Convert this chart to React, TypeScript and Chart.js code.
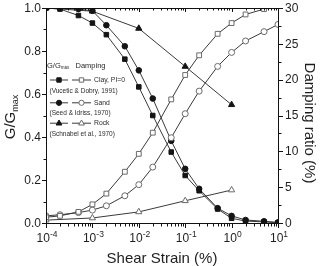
import { useEffect, useRef } from "react";
import { Chart, registerables } from "chart.js";

Chart.register(...registerables);

// Shear strain (%) at which the soil curves are tabulated
const strain = [1e-4, 2e-4, 5e-4, 1e-3, 2e-3, 5e-3, 1e-2, 2e-2, 5e-2, 0.1, 0.2, 0.5, 1, 2, 5, 10];
// Rock curves are tabulated at whole decades only
const rockStrain = [1e-4, 1e-3, 1e-2, 0.1, 1];

// Modulus reduction G/Gmax
const clayG = [1.0, 0.995, 0.965, 0.93, 0.876, 0.762, 0.633, 0.5, 0.33, 0.221, 0.15, 0.065, 0.022, 0.009, 0.005, 0.001];
const sandG = [1.0, 1.0, 0.995, 0.987, 0.92, 0.822, 0.71, 0.579, 0.382, 0.252, 0.159, 0.069, 0.033, 0.014, 0.008, 0.003];
const rockG = [1.0, 0.985, 0.905, 0.728, 0.55];

// Damping ratio (%)
const clayD = [0.8, 1.0, 1.55, 2.6, 4.1, 7.15, 9.65, 12.6, 17.25, 20.65, 23.4, 26.4, 27.9, 29.1, 29.85, 30.3];
const sandD = [1.0, 1.15, 1.45, 1.8, 2.4, 3.8, 5.35, 7.8, 11.9, 15.25, 18.4, 21.85, 23.8, 25.4, 26.7, 27.7];
const rockD = [0.4, 0.7, 1.55, 3.1, 4.6];

// Axis ticks
const xExponents = [-4, -3, -2, -1, 0, 1];
const gTicks = [0, 0.2, 0.4, 0.6, 0.8, 1.0];
const dTicks = [0, 5, 10, 15, 20, 25, 30];

// Legend entries
const soils = ["Clay, PI=0", "Sand", "Rock"];
const sources = ["(Vucetic & Dobry, 1991)", "(Seed & Idriss, 1970)", "(Schnabel et al., 1970)"];
const soilShapes = ["rect", "circle", "triangle"];

const FONT = "'Liberation Sans', Arial, Helvetica, sans-serif";
const FILLED = "#141414";
const OPEN = "#6a6a6a";
const LINE = "#3a3a3a";

const pts = (xs: number[], ys: number[]) => xs.map((x, i) => ({ x, y: ys[i] }));

function marker(ctx: CanvasRenderingContext2D, shape: string, x: number, y: number, filled: boolean) {
  ctx.save();
  ctx.beginPath();
  if (shape === "rect") {
    ctx.rect(x - 2.2, y - 2.2, 4.4, 4.4);
  } else if (shape === "circle") {
    ctx.arc(x, y, 2.6, 0, Math.PI * 2);
  } else {
    ctx.moveTo(x, y - 3.2);
    ctx.lineTo(x + 2.9, y + 1.8);
    ctx.lineTo(x - 2.9, y + 1.8);
    ctx.closePath();
  }
  ctx.fillStyle = filled ? FILLED : "#ffffff";
  ctx.fill();
  ctx.strokeStyle = filled ? FILLED : OPEN;
  ctx.lineWidth = 1;
  ctx.stroke();
  ctx.restore();
}

const decorations = {
  id: "decorations",
  afterDraw(chart: any) {
    const { ctx, chartArea: a, scales } = chart;
    const xs = scales.x;
    const ys = scales.y;
    const ys2 = scales.y2;
    ctx.save();

    // frame
    ctx.strokeStyle = "#111";
    ctx.lineWidth = 1;
    ctx.strokeRect(a.left + 0.5, a.top + 0.5, a.right - a.left, a.bottom - a.top);

    ctx.beginPath();
    // left ticks (outward), minor every 0.1
    for (let i = 0; i <= 10; i++) {
      const py = Math.round(ys.getPixelForValue(i / 10)) + 0.5;
      const len = i % 2 === 0 ? 4 : 2.5;
      ctx.moveTo(a.left - len, py);
      ctx.lineTo(a.left, py);
    }
    // right ticks (outward), minor every 2.5
    for (let i = 0; i <= 12; i++) {
      const py = Math.round(ys2.getPixelForValue(i * 2.5)) + 0.5;
      const len = i % 2 === 0 ? 4 : 2.5;
      ctx.moveTo(a.right + 1, py);
      ctx.lineTo(a.right + 1 + len, py);
    }
    // bottom (outward) and top (inward) log ticks
    for (const e of xExponents) {
      for (let k = 1; k <= 9; k++) {
        const v = k * Math.pow(10, e);
        if (v > 10 + 1e-9) break;
        const px = Math.round(xs.getPixelForValue(v)) + 0.5;
        const len = k === 1 ? 4 : 2.5;
        ctx.moveTo(px, a.bottom + 1);
        ctx.lineTo(px, a.bottom + 1 + len);
        ctx.moveTo(px, a.top);
        ctx.lineTo(px, a.top + len);
      }
    }
    ctx.stroke();

    ctx.fillStyle = "#1e1e1e";
    // left tick labels
    ctx.font = `12px ${FONT}`;
    ctx.textAlign = "right";
    ctx.textBaseline = "middle";
    for (const v of gTicks) ctx.fillText(v.toFixed(1), a.left - 5, ys.getPixelForValue(v) + 0.5);
    // right tick labels
    ctx.textAlign = "left";
    for (const v of dTicks) ctx.fillText(String(v), a.right + 7, ys2.getPixelForValue(v) + 0.5);

    // bottom tick labels: 10 with superscript exponent
    ctx.textBaseline = "alphabetic";
    for (const e of xExponents) {
      const px = xs.getPixelForValue(Math.pow(10, e));
      const exp = String(e);
      ctx.font = `12px ${FONT}`;
      const wBase = ctx.measureText("10").width;
      ctx.font = `8.5px ${FONT}`;
      const wExp = ctx.measureText(exp).width;
      const x0 = px - (wBase + wExp) / 2 + 1;
      ctx.font = `12px ${FONT}`;
      ctx.fillText("10", x0, 241.5);
      ctx.font = `8.5px ${FONT}`;
      ctx.fillText(exp, x0 + wBase, 236.5);
    }

    // x title
    ctx.font = `15px ${FONT}`;
    ctx.textAlign = "center";
    ctx.fillText("Shear Strain (%)", (a.left + a.right) / 2, 263);

    // left title G/Gmax, rotated
    ctx.save();
    ctx.translate(15, 117);
    ctx.rotate(-Math.PI / 2);
    ctx.textAlign = "left";
    ctx.font = `15px ${FONT}`;
    const wG = ctx.measureText("G/G").width;
    ctx.font = `9px ${FONT}`;
    const wMax = ctx.measureText("max").width;
    const start = -(wG + wMax) / 2;
    ctx.font = `15px ${FONT}`;
    ctx.fillText("G/G", start, 0);
    ctx.font = `9px ${FONT}`;
    ctx.fillText("max", start + wG, 3);
    ctx.restore();

    // right title, rotated
    ctx.save();
    ctx.translate(305, 123);
    ctx.rotate(Math.PI / 2);
    ctx.textAlign = "center";
    ctx.font = `15px ${FONT}`;
    ctx.fillText("Damping ratio (%)", 0, 0);
    ctx.restore();

    // legend
    ctx.fillStyle = "#2a2a2a";
    ctx.textAlign = "left";
    ctx.font = `7.5px ${FONT}`;
    ctx.fillText("G/G", 47, 67.5);
    const wHead = ctx.measureText("G/G").width;
    ctx.font = `4.5px ${FONT}`;
    ctx.fillText("max", 47 + wHead, 69);
    ctx.font = `7.5px ${FONT}`;
    ctx.fillText("Damping", 75.5, 67.5);

    const rowY = [79.5, 102.3, 122.7];
    const refY = [91, 112.3, 133.3];
    soils.forEach((name, i) => {
      const yy = rowY[i];
      ctx.strokeStyle = LINE;
      ctx.lineWidth = 1;
      ctx.beginPath();
      ctx.moveTo(50, yy + 0.5);
      ctx.lineTo(68, yy + 0.5);
      ctx.moveTo(72, yy + 0.5);
      ctx.lineTo(91, yy + 0.5);
      ctx.stroke();
      marker(ctx, soilShapes[i], 59, yy + 0.5, true);
      marker(ctx, soilShapes[i], 81.5, yy + 0.5, false);
      ctx.fillStyle = "#2a2a2a";
      ctx.font = `6.8px ${FONT}`;
      ctx.fillText(name, 94, yy + 2.5);
      ctx.font = `6.5px ${FONT}`;
      ctx.fillText(sources[i], 49.5, refY[i] + 2.3);
    });

    ctx.restore();
  },
};

export default function App() {
  const ref = useRef<HTMLCanvasElement>(null);

  useEffect(() => {
    if (!ref.current) return;
    const filledSet = (label: string, xs: number[], ys: number[], shape: string, r: number) => ({
      label,
      data: pts(xs, ys),
      yAxisID: "y",
      borderColor: LINE,
      borderWidth: 1,
      pointStyle: shape,
      pointRadius: r,
      pointBackgroundColor: FILLED,
      pointBorderColor: FILLED,
      pointBorderWidth: 1,
      tension: 0,
    });
    const openSet = (label: string, xs: number[], ys: number[], shape: string, r: number) => ({
      label,
      data: pts(xs, ys),
      yAxisID: "y2",
      borderColor: LINE,
      borderWidth: 1,
      pointStyle: shape,
      pointRadius: r,
      pointBackgroundColor: "#ffffff",
      pointBorderColor: OPEN,
      pointBorderWidth: 1,
      tension: 0,
    });

    const chart = new Chart(ref.current, {
      type: "line",
      data: {
        datasets: [
          openSet("Clay damping", strain, clayD, "rect", 3.4),
          openSet("Sand damping", strain, sandD, "circle", 3),
          openSet("Rock damping", rockStrain, rockD, "triangle", 3.6),
          filledSet("Clay G/Gmax", strain, clayG, "rect", 3.2),
          filledSet("Sand G/Gmax", strain, sandG, "circle", 2.8),
          filledSet("Rock G/Gmax", rockStrain, rockG, "triangle", 3.6),
        ] as any,
      },
      options: {
        animation: false,
        responsive: false,
        layout: { padding: { top: 8, left: 0, right: 0, bottom: 0 } },
        plugins: { legend: { display: false }, tooltip: { enabled: false } },
        scales: {
          x: {
            type: "logarithmic",
            min: 1e-4,
            max: 10,
            position: "bottom",
            grid: { display: false },
            border: { display: false },
            ticks: { display: false },
            afterFit: (s: any) => {
              s.height = 43;
            },
          },
          y: {
            type: "linear",
            min: 0,
            max: 1,
            position: "left",
            grid: { display: false },
            border: { display: false },
            ticks: { display: false },
            afterFit: (s: any) => {
              s.width = 46;
            },
          },
          y2: {
            type: "linear",
            min: 0,
            max: 30,
            position: "right",
            grid: { display: false },
            border: { display: false },
            ticks: { display: false },
            afterFit: (s: any) => {
              s.width = 42;
            },
          },
        },
      } as any,
      plugins: [decorations],
    });
    return () => chart.destroy();
  }, []);

  return (
    <div style={{ position: "fixed", left: 0, top: 0, width: 320, height: 266, background: "#fff" }}>
      <canvas ref={ref} width={320} height={266} style={{ display: "block" }} />
    </div>
  );
}
